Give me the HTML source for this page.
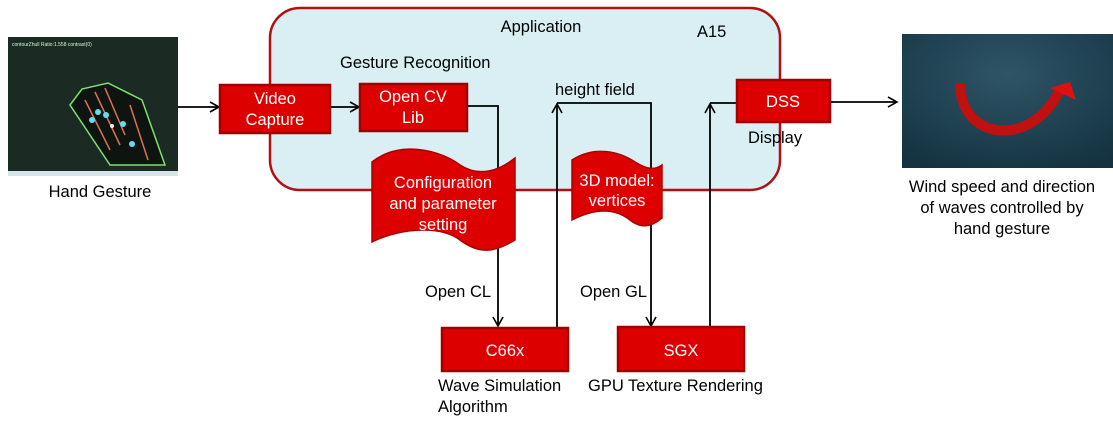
<!DOCTYPE html>
<html><head><meta charset="utf-8"><style>
body{margin:0;width:1113px;height:425px;background:#fff;overflow:hidden}
svg text{font-family:"Liberation Sans",Arial,sans-serif;font-size:16.5px;fill:#000}
.w{fill:#fff;text-anchor:middle}
</style></head><body>
<svg width="1113" height="425" viewBox="0 0 1113 425">
<defs>
<marker id="a" markerWidth="12" markerHeight="12" refX="10" refY="6" orient="auto" markerUnits="userSpaceOnUse"><path d="M1,1 L10,6 L1,11" fill="none" stroke="#000" stroke-width="1.6"/></marker>
<radialGradient id="sea" cx="0.5" cy="0.3" r="0.8"><stop offset="0" stop-color="#2e5567"/><stop offset="1" stop-color="#14323f"/></radialGradient>
</defs>
<rect x="270" y="8" width="510" height="182" rx="30" fill="#d9eff4" stroke="#b01010" stroke-width="2.5"/>
<text x="541" y="32" text-anchor="middle">Application</text>
<text x="697" y="37">A15</text>
<text x="340" y="68">Gesture Recognition</text>
<text x="555" y="95">height field</text>
<text x="748" y="143">Display</text>
<!-- hand photo -->
<rect x="8" y="37" width="170" height="139" fill="#d6e4ea"/>
<rect x="8" y="37" width="170" height="134" fill="#1b2a22"/>
<text x="12" y="46" style="font-size:5px;fill:#cfd">contourZhull Ratio:1.558 contrast(0)</text>
<polygon points="70,105 82,89 108,83 142,100 165,165 110,165" fill="#0e1510" stroke="#7fe070" stroke-width="1.5"/>
<path d="M85,100 L110,150 M95,92 L120,145 M105,88 L125,135 M130,105 L148,160" stroke="#e07050" stroke-width="1.5" fill="none"/>
<circle cx="92" cy="120" r="3" fill="#5ee0f0"/><circle cx="98" cy="112" r="3" fill="#5ee0f0"/><circle cx="106" cy="115" r="3" fill="#5ee0f0"/><circle cx="123" cy="124" r="3" fill="#5ee0f0"/><circle cx="132" cy="144" r="3" fill="#5ee0f0"/><circle cx="112" cy="126" r="2" fill="#eee"/>
<text x="100" y="197" text-anchor="middle">Hand Gesture</text>
<!-- ocean -->
<rect x="902" y="34" width="211" height="134" fill="url(#sea)"/>
<path d="M960,83 C960,140 1030,150 1060,90" fill="none" stroke="#c01010" stroke-width="10"/>
<polygon points="1050,88 1070,82 1076,100" fill="#e01010"/>
<text x="1002" y="192" text-anchor="middle">Wind speed and direction</text>
<text x="1002" y="213" text-anchor="middle">of waves controlled by</text>
<text x="1002" y="234" text-anchor="middle">hand gesture</text>
<!-- connectors -->
<g stroke="#000" stroke-width="1.8" fill="none">
<line x1="178" y1="107" x2="219" y2="107" marker-end="url(#a)"/>
<line x1="330" y1="107" x2="359" y2="107" marker-end="url(#a)"/>
<polyline points="467,106 498,106 498,326" marker-end="url(#a)"/>
<polyline points="557,328 557,104" marker-end="url(#a)"/>
<polyline points="557,103 651,103 651,326" marker-end="url(#a)"/>
<polyline points="710,327 710,104" marker-end="url(#a)"/>
<line x1="710" y1="103" x2="737" y2="103"/>
<line x1="830" y1="102" x2="897" y2="102" marker-end="url(#a)"/>
</g>
<!-- flags -->
<path d="M372,162 C400,140 440,150 460,165 C480,178 500,170 515,158 L515,240 C495,252 480,255 460,240 C440,225 400,228 372,242 Z" fill="#dd0000" stroke="#a00" stroke-width="1.5"/>
<text class="w" x="443" y="188">Configuration</text>
<text class="w" x="443" y="209">and parameter</text>
<text class="w" x="443" y="230">setting</text>
<path d="M572,160 C595,145 620,152 635,162 C648,170 655,170 662,165 L662,218 C650,228 640,228 630,220 C615,208 595,208 572,220 Z" fill="#dd0000" stroke="#a00" stroke-width="1.5"/>
<text class="w" x="617" y="186">3D model:</text>
<text class="w" x="617" y="206">vertices</text>
<!-- boxes -->
<g fill="#dd0000" stroke="#a00000" stroke-width="2.5">
<rect x="220" y="85" width="110" height="48"/>
<rect x="360" y="84" width="107" height="47"/>
<rect x="737" y="80" width="93" height="42"/>
<rect x="442" y="328" width="126" height="43"/>
<rect x="618" y="327" width="126" height="44"/>
</g>
<text class="w" x="275" y="104">Video</text>
<text class="w" x="275" y="125">Capture</text>
<text class="w" x="413" y="102">Open CV</text>
<text class="w" x="413" y="123">Lib</text>
<text class="w" x="783" y="107">DSS</text>
<text class="w" x="505" y="356">C66x</text>
<text class="w" x="681" y="356">SGX</text>
<text x="425" y="297">Open CL</text>
<text x="580" y="297">Open GL</text>
<text x="438" y="391">Wave Simulation</text>
<text x="438" y="412">Algorithm</text>
<text x="588" y="391">GPU Texture Rendering</text>
</svg>
</body></html>
